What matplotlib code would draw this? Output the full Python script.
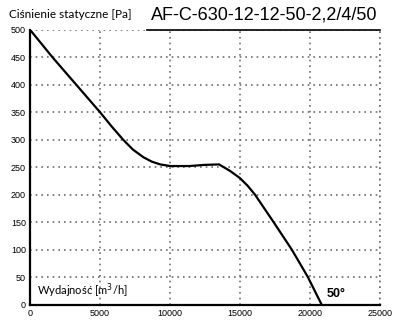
import matplotlib
matplotlib.use("Agg")
import matplotlib.pyplot as plt

# fan curve: airflow [m3/h] vs static pressure [Pa]
flow = [0, 1600, 3300, 5000, 5800, 6650, 7350, 8100, 8700, 9300, 10000,
        11400, 12400, 13500, 14300, 15000, 15550, 16070, 17400, 18700,
        19850, 20830]
pressure = [500, 450, 400, 350, 325, 300, 282, 268, 260, 255, 252,
            252, 254, 255, 243, 230, 216, 200, 150, 100,
            50, 0]

x_ticks = [0, 5000, 10000, 15000, 20000, 25000]
y_ticks = list(range(0, 501, 50))

model = "AF-C-630-12-12-50-2,2/4/50"
angle_label = "50°"

fig = plt.figure(figsize=(4, 3.3), dpi=100)
ax = fig.add_axes([0.075, 0.077, 0.875, 0.833])

ax.set_xlim(0, 25000)
ax.set_ylim(0, 500)
ax.set_xticks(x_ticks)
ax.set_yticks(y_ticks)
ax.tick_params(length=0, labelsize=6.5, pad=3)
for lab in ax.get_xticklabels() + ax.get_yticklabels():
    lab.set_family("Liberation Sans")

dots = dict(color="#6e6e6e", linestyle=(0, (1, 2.4)), linewidth=1.2)
ax.grid(True, **dots)
ax.set_axisbelow(True)

for s in ("top", "right"):
    ax.spines[s].set_visible(False)
for s in ("left", "bottom"):
    ax.spines[s].set_linewidth(1.6)
ax.axhline(500, xmin=0.335, xmax=1.0, color="black", linewidth=1.2, clip_on=False)
ax.axvline(25000, clip_on=False, **dots)

ax.plot(flow, pressure, color="black", linewidth=1.6,
        solid_capstyle="round", solid_joinstyle="round")

ax.text(500, 8, "Wydajność [m$^3$/h]", fontsize=8, family="Lato", va="bottom", ha="left")
ax.text(21200, 8, angle_label, fontsize=9, family="Liberation Sans",
        fontweight="bold", va="bottom", ha="left")

fig.text(0.022, 0.955, "Ciśnienie statyczne [Pa]", fontsize=8.5, family="Lato",
         va="center", ha="left")
fig.text(0.943, 0.955, model, fontsize=13, family="Liberation Sans",
         va="center", ha="right")

fig.savefig("out.png", dpi=100)
